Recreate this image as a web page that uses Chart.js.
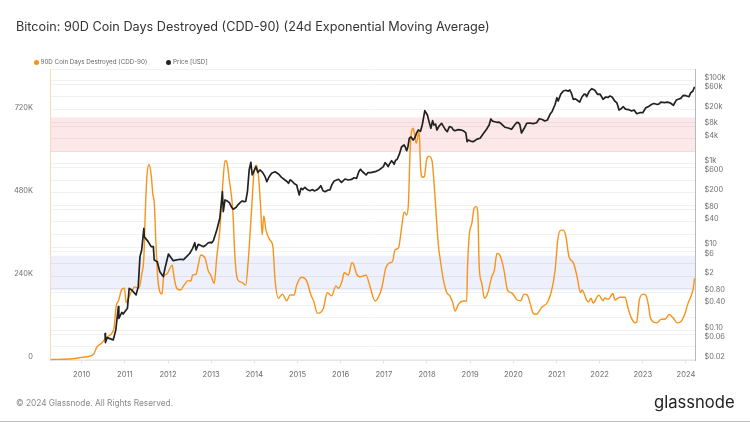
<!DOCTYPE html>
<html><head><meta charset="utf-8">
<script src="https://cdn.jsdelivr.net/npm/chart.js@4"></script>
<style>
html,body{margin:0;padding:0;background:#fff;width:750px;height:422px;overflow:hidden;font-family:Inter,sans-serif}
#wrap{position:relative;width:750px;height:422px}
canvas{position:absolute;left:0;top:0}
.t{position:absolute;white-space:nowrap}
#title{left:16px;top:17.5px;font-size:12.67px;line-height:18px;color:#333;font-weight:400}
.lg{top:58px;font-size:6.25px;line-height:9px;color:#666}
.dot{position:absolute;top:60px;width:5px;height:5px;border-radius:50%}
#foot{left:16px;top:397px;font-size:8.3px;line-height:12px;color:#888}
#logo{left:654px;top:389px;font-size:16.6px;line-height:26px;color:#222;font-family:Inter,sans-serif}
#rule{position:absolute;left:0;right:0;bottom:0;height:1px;background:#bdbdbd}
</style></head><body>
<div id="wrap">
<canvas id="c" width="750" height="422"></canvas>
<div class="t" id="title"></div>
<div class="t" id="foot"></div>
<div class="t" id="logo"></div>
<div id="rule"></div>
</div>
<script>
const chartTitle="Bitcoin: 90D Coin Days Destroyed (CDD-90) (24d Exponential Moving Average)";
const footerText="© 2024 Glassnode. All Rights Reserved.";
const brandText="glassnode";
const cddName="90D Coin Days Destroyed (CDD-90)";
const priceName="Price [USD]";
const yearTicks=[2010,2011,2012,2013,2014,2015,2016,2017,2018,2019,2020,2021,2022,2023,2024];
const leftTicks=[0,240,480,720];
const priceTicks=[100000,60000,20000,8000,4000,1000,600,200,80,40,10,6,2,0.8,0.4,0.1,0.06,0.02];
const priceTickLabels=["$100k","$60k","$20k","$8k","$4k","$1k","$600","$200","$80","$40","$10","$6","$2","$0.80","$0.40","$0.10","$0.06","$0.02"];
const priceGrid=[188000,100000,80000,40000,20000,10000,8000,4000,2000,1000,800,400,200,100,80,40,20,10,8,4,2,1,0.8,0.4,0.2,0.1,0.08,0.04,0.02];
const bandRed=[600,700];
const bandBlue=[200,300];
const cddYears=[2009.28,2009.80,2010.00,2010.12,2010.28,2010.35,2010.46,2010.58,2010.70,2010.75,2010.80,2010.85,2010.93,2010.99,2011.03,2011.08,2011.16,2011.23,2011.33,2011.39,2011.44,2011.47,2011.51,2011.56,2011.61,2011.65,2011.68,2011.72,2011.76,2011.81,2011.86,2011.90,2011.97,2012.10,2012.12,2012.20,2012.29,2012.37,2012.47,2012.53,2012.57,2012.65,2012.70,2012.76,2012.86,2012.93,2012.99,2013.07,2013.13,2013.20,2013.27,2013.32,2013.36,2013.42,2013.50,2013.55,2013.61,2013.71,2013.80,2013.86,2013.94,2013.99,2014.04,2014.09,2014.15,2014.18,2014.22,2014.27,2014.36,2014.43,2014.48,2014.56,2014.65,2014.75,2014.83,2014.92,2014.98,2015.10,2015.21,2015.31,2015.38,2015.46,2015.52,2015.60,2015.69,2015.79,2015.89,2015.95,2016.04,2016.08,2016.18,2016.26,2016.29,2016.37,2016.46,2016.59,2016.66,2016.80,2016.90,2016.96,2017.04,2017.14,2017.20,2017.26,2017.34,2017.41,2017.47,2017.53,2017.57,2017.61,2017.65,2017.68,2017.75,2017.82,2017.85,2017.90,2017.94,2017.99,2018.05,2018.12,2018.18,2018.26,2018.32,2018.38,2018.46,2018.53,2018.60,2018.65,2018.73,2018.84,2018.92,2018.94,2018.98,2019.04,2019.09,2019.14,2019.18,2019.21,2019.27,2019.33,2019.41,2019.50,2019.56,2019.62,2019.67,2019.75,2019.79,2019.87,2019.96,2020.09,2020.17,2020.25,2020.32,2020.39,2020.46,2020.53,2020.66,2020.80,2020.89,2020.97,2021.03,2021.10,2021.16,2021.22,2021.29,2021.39,2021.47,2021.56,2021.59,2021.70,2021.74,2021.80,2021.85,2021.98,2022.08,2022.12,2022.20,2022.31,2022.35,2022.47,2022.59,2022.66,2022.74,2022.82,2022.86,2022.92,2023.01,2023.07,2023.13,2023.18,2023.33,2023.42,2023.52,2023.61,2023.71,2023.80,2023.88,2023.98,2024.05,2024.13,2024.17,2024.20];
const cddValues=[0,2,6,8,16,36,47,65,76,92,155,169,203,206,164,177,198,210,206,246,294,413,529,564,533,476,456,337,239,196,189,239,247,273,254,206,201,215,228,227,244,247,273,302,293,257,244,220,297,374,510,575,572,519,432,297,232,223,215,288,442,538,562,538,432,360,415,374,346,326,230,177,189,170,187,186,215,238,228,187,167,134,135,148,193,184,213,206,230,251,244,280,278,247,239,244,220,169,187,211,262,280,283,317,323,379,427,418,452,606,664,669,625,659,557,527,529,577,588,572,481,336,278,230,193,184,163,140,160,169,169,268,360,394,437,442,418,268,220,177,193,239,257,307,305,278,254,199,193,172,170,189,187,163,134,131,151,167,201,259,346,374,374,355,297,280,244,193,201,172,166,177,163,186,170,178,174,191,172,180,180,148,119,106,109,172,189,186,158,119,106,116,117,130,119,106,109,134,163,187,206,235];
const priceYears=[2010.54,2010.55,2010.59,2010.73,2010.79,2010.85,2010.86,2010.93,2010.96,2011.06,2011.10,2011.16,2011.26,2011.31,2011.35,2011.39,2011.44,2011.45,2011.54,2011.61,2011.66,2011.68,2011.75,2011.81,2011.89,2011.93,2012.01,2012.12,2012.28,2012.43,2012.57,2012.62,2012.65,2012.70,2012.82,2012.93,2013.05,2013.13,2013.20,2013.26,2013.28,2013.32,2013.42,2013.51,2013.67,2013.76,2013.84,2013.88,2013.92,2013.95,2014.04,2014.13,2014.25,2014.29,2014.40,2014.56,2014.71,2014.79,2014.87,2014.98,2015.04,2015.08,2015.17,2015.29,2015.44,2015.54,2015.64,2015.75,2015.85,2015.95,2016.02,2016.18,2016.37,2016.46,2016.59,2016.80,2016.99,2017.03,2017.10,2017.18,2017.24,2017.31,2017.41,2017.47,2017.53,2017.59,2017.68,2017.80,2017.89,2017.95,2018.01,2018.09,2018.13,2018.23,2018.34,2018.47,2018.57,2018.65,2018.84,2018.93,2019.07,2019.23,2019.38,2019.48,2019.62,2019.71,2019.81,2019.96,2020.12,2020.19,2020.31,2020.54,2020.60,2020.73,2020.85,2020.97,2021.01,2021.04,2021.16,2021.31,2021.39,2021.54,2021.64,2021.70,2021.82,2021.95,2022.08,2022.24,2022.35,2022.45,2022.55,2022.74,2022.86,2023.00,2023.07,2023.21,2023.32,2023.50,2023.71,2023.82,2023.94,2024.07,2024.16,2024.20];
const priceValues=[0.085,0.051,0.067,0.059,0.102,0.37,0.195,0.27,0.247,0.34,1.02,0.93,0.71,1.12,5.9,8.5,28,17.7,13.5,10.2,10.2,4.9,4.45,2.56,1.95,3.1,6.8,4.7,5.1,5.9,9.3,12.7,8.5,11.6,10.2,12.7,14.2,25.6,49,213,71,135,116,81,116,123,213,708,1084,537,849,708,489,371,590,568,407,339,385,309,178,258,272,225,234,297,213,234,385,424,358,407,447,736,537,644,849,1059,849,1183,970,1279,2520,2818,2055,4083,3715,6457,8511,18750,14790,7096,10790,6457,9354,5875,7499,6209,6209,3381,3381,4083,6714,11860,9886,9354,7499,6714,9661,5470,9354,9661,12050,10620,15380,26730,38460,32060,55720,58880,35240,30340,46450,40640,63240,46450,35240,42270,32060,19500,23390,18450,15880,16790,22130,26730,26730,29170,25290,35240,43950,40640,55720,70630];
const priceDetailYears=[2012.36,2012.50,2012.75,2012.88,2012.98,2013.01,2013.37,2013.47,2013.58,2013.62,2013.72,2013.80,2014.08,2014.19,2014.34,2014.48,2014.63,2014.75,2014.83,2014.93,2015.12,2015.23,2015.35,2015.39,2015.49,2015.59,2015.70,2015.80,2016.10,2016.25,2016.31,2016.42,2016.50,2016.55,2016.63,2016.70,2016.90,2017.07,2017.14,2017.21,2017.27,2017.36,2017.50,2017.56,2017.63,2017.72,2017.76,2017.85,2018.04,2018.16,2018.20,2018.28,2018.37,2018.43,2018.52,2018.61,2018.72,2018.78,2018.90,2018.96,2019.01,2019.16,2019.30,2019.44,2019.52,2019.57,2019.67,2019.76,2019.88,2020.03,2020.08,2020.15,2020.25,2020.38,2020.46,2020.67,2020.79,2020.90,2021.10,2021.22,2021.27,2021.35,2021.44,2021.49,2021.59,2021.67,2021.76,2021.89,2022.01,2022.14,2022.19,2022.29,2022.40,2022.50,2022.60,2022.67,2022.80,2022.93,2023.13,2023.26,2023.37,2023.42,2023.57,2023.63,2023.78,2023.88,2024.00,2024.11];
const priceDetailValues=[5.0,7.0,11,11.2,13,12.6,128,92,90,103,128,125,620,620,480,640,470,380,410,330,240,238,240,222,255,225,232,320,430,420,460,640,650,590,610,610,720,960,1020,1080,1200,1700,2500,2600,4400,4200,5500,6000,11000,8500,8900,8000,8200,6500,7800,6500,6600,6500,5500,3700,3500,3900,5200,8500,10500,10200,10000,8300,7200,8500,9800,8800,7000,9500,9200,11500,11200,18000,47000,58000,55000,48000,36000,33000,40000,47000,55000,58000,47000,40000,39000,40000,29000,21000,20500,20000,19500,16800,23500,28000,27000,30000,30000,29000,34000,37000,43000,50000];
const cddColor="#F7931A", priceColor="#222222";

document.getElementById('title').textContent=chartTitle;
document.getElementById('foot').textContent=footerText;
document.getElementById('logo').textContent=brandText;
[[cddName,cddColor,33.5,40.5],[priceName,priceColor,166,173]].forEach(([n,col,dx,tx])=>{
  const d=document.createElement('div');d.className='dot';d.style.left=dx+'px';d.style.background=col;
  const s=document.createElement('div');s.className='t lg';s.style.left=tx+'px';s.textContent=n;
  const w=document.getElementById('wrap');w.appendChild(d);w.appendChild(s);
});

const bandPlugin={id:'bands',beforeDraw(ch){
  const {ctx,chartArea:a,scales:{yL}}=ch;
  [[bandRed,'#fce8e8'],[bandBlue,'#eef1fb']].forEach(([b,col])=>{
    const y0=yL.getPixelForValue(b[1]),y1=yL.getPixelForValue(b[0]);
    ctx.fillStyle=col;ctx.fillRect(a.left,y0,a.right-a.left,y1-y0);
  });
}};
const toPts=(xs,ys)=>xs.map((x,i)=>({x,y:ys[i]}));
const pricePts=[...toPts(priceYears,priceValues),...toPts(priceDetailYears,priceDetailValues)].sort((a,b)=>a.x-b.x);
const lblColor='#6e6e6e';
const lblFont={family:'Inter',size:7.4,lineHeight:'6px'};
new Chart(document.getElementById('c'),{
  type:'line',
  plugins:[bandPlugin],
  data:{datasets:[
    {label:priceName,data:pricePts,yAxisID:'yR',borderColor:priceColor,borderWidth:1.7,pointRadius:0,tension:0,borderJoinStyle:'round',order:0},
    {label:cddName,data:toPts(cddYears,cddValues),yAxisID:'yL',borderColor:cddColor,borderWidth:1.4,pointRadius:0,cubicInterpolationMode:'monotone',order:1}
  ]},
  options:{
    responsive:false,animation:false,devicePixelRatio:1,
    layout:{padding:{top:69,left:0,right:0,bottom:0}},
    plugins:{legend:{display:false},title:{display:false},tooltip:{enabled:false}},
    scales:{
      x:{type:'linear',min:2009.277,max:2024.21,
        afterBuildTicks(s){s.ticks=yearTicks.map(v=>({value:v}));},
        afterFit(s){s.height=61.5;},
        grid:{drawOnChartArea:false,tickLength:3,color:'#e4e4e4'},
        border:{color:'#e6e6e6'},
        ticks:{autoSkip:false,maxRotation:0,padding:7,color:lblColor,font:{family:'Inter',size:7.6},callback:v=>String(v)}},
      yL:{type:'linear',position:'left',min:-2.9,max:840,
        afterBuildTicks(s){s.ticks=leftTicks.map(v=>({value:v}));},
        afterFit(s){s.width=50.5;},
        grid:{display:false},
        border:{color:'#fbd9b2',width:1},
        ticks:{autoSkip:false,padding:9.5,color:lblColor,font:lblFont,callback:v=>[v===0?'0':v+'K','']}},
      yR:{type:'logarithmic',position:'right',min:0.0189,max:188000,
        afterBuildTicks(s){
          const all=[...new Set([...priceTicks,...priceGrid])].sort((a,b)=>a-b);
          s.ticks=all.map(v=>({value:v}));
        },
        afterFit(s){s.width=55;},
        grid:{drawTicks:false,tickLength:0,lineWidth:1,color:c=>priceGrid.includes(c.tick.value)?'rgba(0,0,0,0.055)':'rgba(0,0,0,0)'},
        border:{color:'#b9b9b9',width:1},
        ticks:{autoSkip:false,padding:9.5,color:lblColor,font:lblFont,
          callback:v=>{const i=priceTicks.indexOf(v);return i<0?'':[priceTickLabels[i],''];}}}
    }
  }
});
</script>
</body></html>
